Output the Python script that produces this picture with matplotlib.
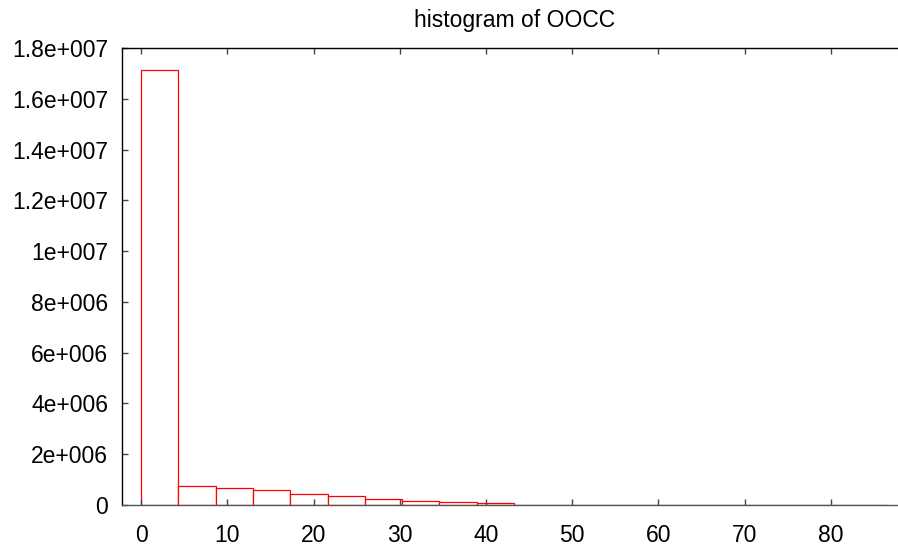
import matplotlib
matplotlib.use("Agg")
import matplotlib.pyplot as plt
import numpy as np

plt.rcParams["font.family"] = ["Liberation Sans", "DejaVu Sans"]

# histogram bins (20 equal-width bins over the data range) and counts
bin_min = 0.0
bin_max = 86.5
n_bins = 20
counts = [1.713e7, 7.36e5, 6.57e5, 5.79e5, 4.46e5, 3.42e5, 2.36e5, 1.44e5, 1.05e5, 6.6e4,
          1.5e4, 8e3, 5e3, 3e3, 2e3, 1.5e3, 1e3, 8e2, 5e2, 3e2]
title = "histogram of OOCC"
x_ticks = [0, 10, 20, 30, 40, 50, 60, 70, 80]
y_ticks = [0, 2e6, 4e6, 6e6, 8e6, 1e7, 1.2e7, 1.4e7, 1.6e7, 1.8e7]
y_tick_labels = ["0", "2e+006", "4e+006", "6e+006", "8e+006", "1e+007",
                 "1.2e+007", "1.4e+007", "1.6e+007", "1.8e+007"]

edges = np.linspace(bin_min, bin_max, n_bins + 1)

fig = plt.figure(figsize=(8.98, 5.48), dpi=100)
ax = fig.add_axes([0.136, 0.0785, 0.864, 0.834])

ax.bar(edges[:-1], counts, width=np.diff(edges), align="edge",
       facecolor="white", edgecolor="red", linewidth=0.9)

ax.set_xlim(-2.2, 87.8)
ax.set_ylim(0, 1.8e7)
ax.set_xticks(x_ticks)
ax.set_xticklabels([str(t) for t in x_ticks])
ax.set_yticks(y_ticks)
ax.set_yticklabels(y_tick_labels)

ax.spines["right"].set_visible(False)
for side in ("left", "top", "bottom"):
    ax.spines[side].set_linewidth(1.0)
ax.spines["bottom"].set_color("#555555")

ax.tick_params(axis="both", direction="in", length=4, width=1, colors="#444444",
               labelcolor="black", labelsize=16.5)
ax.tick_params(axis="x", top=True, pad=14)
ax.tick_params(axis="y", pad=10)

fig.text(0.573, 0.962, title, ha="center", va="center", fontsize=16.5)

fig.savefig("out.png", dpi=100)
